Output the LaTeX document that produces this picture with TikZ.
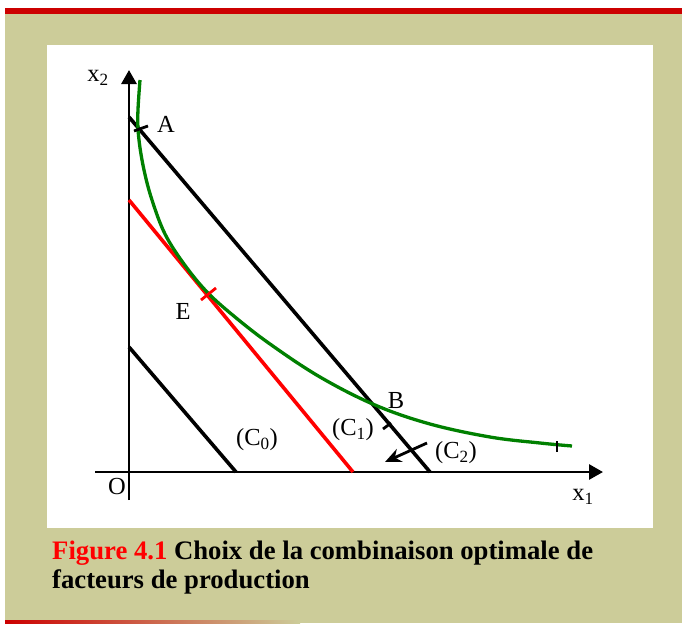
\documentclass[tikz,border=0pt]{standalone}
\usepackage{fontspec}
\setmainfont{Liberation Serif}
\usetikzlibrary{arrows.meta}

\definecolor{kaki}{RGB}{204,204,153}
\definecolor{bandeau}{RGB}{204,0,0}
\definecolor{isoquant}{RGB}{0,128,0}
\definecolor{optimum}{RGB}{255,0,0}

\begin{document}
\begin{tikzpicture}[x=1pt,y=-1pt,
    % Axes avec une flèche triangulaire au bout
    axe/.style={line width=2.8pt, -{Triangle[length=14pt,width=15pt]}},
    % Droites d'isocoût
    isocout/.style={line width=3.6pt},
    % Petites marques sur les courbes
    marque/.style={line width=2.8pt},
    % Étiquettes du graphique
    etiq/.style={font=\fontsize{24.5}{24.5}\selectfont, inner sep=0pt}
]
    \useasboundingbox (0,0) rectangle (682,624);

    % Fond : bandeau rouge, cadre kaki et zone blanche
    \fill[kaki] (5,13) rectangle (682,620);
    \fill[bandeau] (5,8) rectangle (682,14);
    \shade[left color=bandeau, right color=kaki] (5,620) rectangle (300,623);
    \fill[kaki] (300,620) rectangle (682,623);
    \fill[white] (47,45) rectangle (653,528);

    % Points du graphique
    \coordinate (O) at (129,472);
    \coordinate (Xbas) at (129,500);
    \coordinate (Xhaut) at (129,70);
    \coordinate (Ygauche) at (95,472);
    \coordinate (Ydroite) at (603,472);
    % (C2) : passe par A et B
    \coordinate (C2h) at (129,117);
    \coordinate (C2b) at (430,472);
    % (C1) : tangente en E
    \coordinate (C1h) at (129,200);
    \coordinate (C1b) at (353,472);
    % (C0)
    \coordinate (C0h) at (129,347);
    \coordinate (C0b) at (236,472);

    % Axes
    \draw[axe] (Xbas) -- (Xhaut);
    \draw[axe] (Ygauche) -- (Ydroite);

    % Droites d'isocoût
    \draw[isocout] (C2h) -- (C2b);
    \draw[isocout, optimum] (C1h) -- (C1b);
    \draw[isocout] (C0h) -- (C0b);

    % Isoquant (courbe verte)
    \draw[isoquant, line width=3.3pt] plot[smooth, tension=0.6] coordinates {
        (140,80) (137.8,115) (139,140) (144,170) (152,200) (165,234)
        (184,264) (207,292) (235,317) (270,344) (320,377) (375,405)
        (430,424) (490,437) (540,443) (572,446)};

    % Marques en A, E, sur (C2) et au bout de l'isoquant
    \coordinate (Aa) at (134,131); \coordinate (Ab) at (148,126);
    \coordinate (Ea) at (201,300); \coordinate (Eb) at (216,288);
    \coordinate (Ta) at (383,429); \coordinate (Tb) at (391,423);
    \coordinate (Ia) at (557,441); \coordinate (Ib) at (557,452);
    \draw[marque] (Aa) -- (Ab);
    \draw[marque, optimum] (Ea) -- (Eb);
    \draw[marque] (Ta) -- (Tb);
    \draw[marque] (Ia) -- (Ib);

    % Flèche de déplacement de (C2)
    \coordinate (Fa) at (427,443);
    \coordinate (Fb) at (385,462);
    \draw[line width=2.8pt, -{Stealth[length=16pt,width=14pt]}] (Fa) -- (Fb);

    % Étiquettes
    \node[etiq] (lx2) at (98,78) {x\textsubscript{2}};
    \node[etiq] (lx1) at (583,497) {x\textsubscript{1}};
    \node[etiq] (lO) at (117,486) {O};
    \node[etiq] (lA) at (166,124) {A};
    \node[etiq] (lE) at (183,311) {E};
    \node[etiq] (lB) at (396,401) {B};
    \node[etiq] (lC0) at (257,440) {(C\textsubscript{0})};
    \node[etiq] (lC1) at (353,430) {(C\textsubscript{1})};
    \node[etiq] (lC2) at (456,453) {(C\textsubscript{2})};

    % Légende
    \node[anchor=base west, inner sep=0pt, font=\bfseries\fontsize{26.7}{30}\selectfont]
        (leg1) at (52,559) {\textcolor{optimum}{Figure 4.1} Choix de la combinaison optimale de};
    \node[anchor=base west, inner sep=0pt, font=\bfseries\fontsize{26.7}{30}\selectfont]
        (leg2) at (52,588) {facteurs de production};
\end{tikzpicture}
\end{document}
